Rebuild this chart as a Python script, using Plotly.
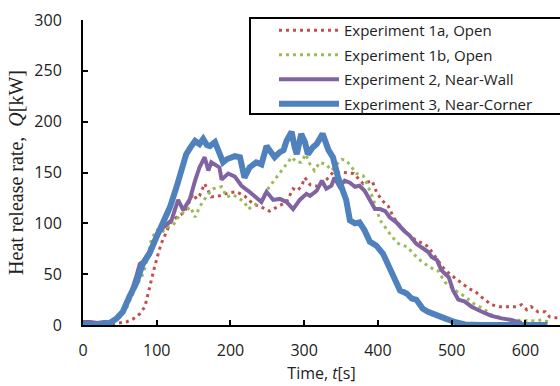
import plotly.graph_objects as go

# ---- data ----
t_1a = [30, 40, 50, 59, 68, 77, 84, 88, 93, 97, 102, 106, 111, 118, 127, 136, 140, 149, 154, 158, 165, 174, 185, 197, 208,
        219, 231, 242, 253, 265, 276, 285, 290, 296, 301, 308, 321, 333, 339, 353, 367, 380, 392, 398, 405, 414, 421, 432,
        443, 452, 462, 468, 477, 491, 505, 514, 523, 532, 543, 554, 565, 577, 588, 595, 602, 608, 617, 627, 633, 642, 650]
q_1a = [0, 1, 2, 3, 6, 11, 18, 31, 46, 57, 70, 80, 88, 100, 106, 110, 114, 129, 124, 127, 139, 126, 127, 130, 131,
        127, 119, 116, 112, 117, 121, 134, 132, 136, 145, 138, 136, 145, 150, 150, 149, 139, 142, 131, 123, 117, 106, 96,
        88, 83, 80, 77, 68, 54, 46, 41, 36, 33, 26, 20, 18, 18, 18, 20, 15, 18, 13, 13, 8, 7, 6]

t_1b = [20, 30, 40, 50, 60, 70, 82, 88, 93, 100, 106, 113, 122, 131, 140, 146, 152, 158, 167, 176, 188, 195, 204, 213,
        219, 224, 233, 242, 249, 256, 262, 269, 276, 283, 290, 296, 302, 308, 314, 321, 330, 337, 344, 351, 357, 364,
        371, 380, 387, 394, 403, 410, 419, 428, 439, 446, 455, 464, 473, 482, 491, 505, 518, 530, 543, 554, 568, 581,
        600, 613, 622, 631]
q_1b = [0, 1, 3, 8, 18, 35, 51, 67, 85, 93, 90, 96, 98, 108, 113, 116, 106, 116, 126, 134, 136, 126, 128, 124,
        121, 114, 118, 123, 132, 139, 145, 152, 158, 165, 160, 160, 168, 158, 152, 160, 158, 152, 158, 163, 162, 155,
        149, 147, 136, 123, 103, 96, 87, 80, 77, 72, 65, 60, 56, 53, 42, 34, 28, 21, 16, 10, 7, 5,
        4, 4, 5, 3]

t_2 = [0, 10, 20, 30, 38, 45, 54, 63, 72, 77, 81, 90, 100, 109, 120, 129, 136, 145, 152, 158, 165, 170, 174, 179, 185,
       188, 197, 206, 215, 224, 233, 242, 249, 258, 267, 276, 285, 294, 303, 308, 317, 324, 330, 337, 341, 348, 355,
       362, 369, 375, 382, 389, 396, 403, 410, 416, 425, 435, 443, 452, 461, 468, 473, 480, 486, 496, 502, 509, 518,
       527, 541, 554, 568, 581, 595]
q_2 = [3, 3, 2, 3, 2, 6, 13, 27, 47, 60, 62, 72, 88, 96, 103, 123, 113, 124, 142, 155, 165, 152, 160, 158, 155,
       143, 149, 146, 137, 132, 127, 121, 131, 123, 124, 121, 114, 123, 129, 127, 132, 142, 134, 137, 145, 136, 142,
       140, 136, 137, 132, 123, 114, 114, 112, 106, 101, 93, 88, 80, 75, 72, 67, 64, 54, 47, 34, 25, 23,
       18, 13, 9, 6.5, 5, 2]

t_3 = [0, 10, 20, 30, 36, 45, 54, 63, 72, 81, 90, 100, 109, 118, 127, 133, 140, 146, 152, 158, 163, 168, 172, 179, 185,
       190, 195, 200, 206, 213, 219, 226, 231, 235, 242, 249, 255, 260, 267, 272, 276, 283, 287, 290, 296, 301, 305,
       308, 312, 317, 325, 333, 339, 346, 353, 357, 362, 369, 375, 382, 389, 398, 407, 416, 423, 430, 439, 446, 452,
       461, 468, 477, 491, 504, 518, 540, 570, 600, 630]
q_3 = [1, 0, 1, 1, 2, 6, 13, 28, 41, 60, 70, 87, 103, 116, 136, 152, 168, 175, 181, 178, 183, 177, 176, 180, 167,
       160, 163, 165, 166, 165, 145, 155, 158, 160, 158, 176, 170, 165, 170, 172, 181, 190, 175, 168, 188, 180, 168,
       172, 175, 178, 188, 172, 165, 145, 132, 123, 103, 100, 101, 93, 82, 78, 70, 57, 44, 34, 31, 26, 25,
       16, 13, 10, 6.5, 3, 0.5, 0, 0, 0, 0]

names = ["Experiment 1a, Open", "Experiment 1b, Open", "Experiment 2, Near-Wall", "Experiment 3, Near-Corner"]
x_ticks = [0, 100, 200, 300, 400, 500, 600]
y_ticks = [0, 50, 100, 150, 200, 250, 300]

SANS = "Open Sans"
fig = go.Figure()
fig.add_trace(go.Scatter(x=t_1a, y=q_1a, mode="lines", name=names[0], legendgroup="a",
                         line=dict(color="#C0504D", width=3, dash="3px,4px")))
fig.add_trace(go.Scatter(x=t_1b, y=q_1b, mode="lines", name=names[1], legendgroup="b",
                         line=dict(color="#9BBB59", width=3, dash="3px,4px")))
fig.add_trace(go.Scatter(x=t_2, y=q_2, mode="lines", name=names[2], legendgroup="c",
                         line=dict(color="#8064A2", width=4)))
fig.add_trace(go.Scatter(x=t_3, y=q_3, mode="lines", name=names[3], legendgroup="d",
                         line=dict(color="#4F81BD", width=6)))

W, H = 560, 386
L, R, T, B = 83, 0, 20, 61
pw, ph = W - L - R, H - T - B

def px2x(p):
    return (p - L) / pw

def py2y(p):
    return 1 - (p - T) / ph

fig.add_shape(type="rect", xref="paper", yref="paper",
              x0=px2x(250), x1=px2x(566), y0=py2y(114), y1=py2y(18),
              fillcolor="white", line=dict(color="black", width=2), layer="above")

fig.update_layout(
    width=W, height=H, margin=dict(l=L, r=R, t=T, b=B),
    paper_bgcolor="white", plot_bgcolor="white",
    font=dict(family=SANS, size=16, color="#222"),
    showlegend=True,
    legend=dict(x=px2x(274), y=py2y(14), xanchor="left", yanchor="top",
                bgcolor="rgba(0,0,0,0)", borderwidth=0, font=dict(family=SANS, size=15, color="#222"),
                tracegroupgap=2, itemwidth=60),
    xaxis=dict(range=[0, 647], tickvals=x_ticks, ticks="inside", ticklen=5, tickwidth=1.5, tickcolor="black",
               showline=True, linecolor="black", linewidth=2, showgrid=False, zeroline=False,
               ticklabelstandoff=10, tickfont=dict(family=SANS, size=16, color="#222"),
               title=dict(text="Time, <i>t</i>[s]", font=dict(family=SANS, size=16, color="#222"), standoff=8)),
    yaxis=dict(range=[0, 300], tickvals=y_ticks, ticks="inside", ticklen=5, tickwidth=1.5, tickcolor="black",
               showline=True, linecolor="black", linewidth=2, showgrid=False, zeroline=False,
               ticklabelstandoff=16, tickfont=dict(family=SANS, size=16, color="#222"),
               title=dict(text="Heat release rate,  <i>Q</i>[kW]",
                          font=dict(family="Liberation Serif", size=20, color="#222"), standoff=5)),
)

fig.write_html("out.html")
